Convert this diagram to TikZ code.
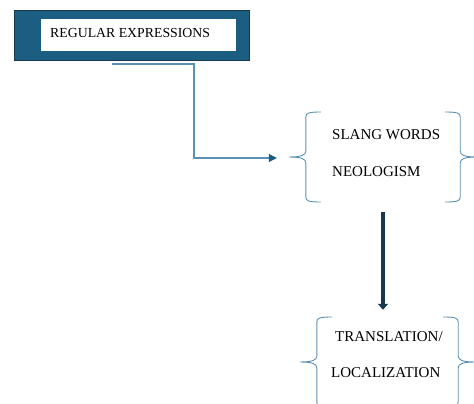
\documentclass[tikz,border=0pt]{standalone}
\usepackage{fontspec}
\setmainfont{Liberation Serif}
\usetikzlibrary{arrows.meta}
\definecolor{boxblue}{HTML}{1B5E82}
\definecolor{darkblue}{HTML}{17394D}
\definecolor{lineblue}{HTML}{5A91B5}
\begin{document}
\begin{tikzpicture}
[x=1pt,y=-1pt,
 frame/.style={draw=darkblue,line width=1pt,fill=boxblue,minimum width=235pt,minimum height=50pt},
 inner/.style={fill=white,minimum width=195pt,minimum height=32pt},
 group/.style={minimum width=#1,minimum height=90pt,inner sep=0pt},
 word/.style={anchor=west,inner sep=0pt,font=\fontsize{15}{15}\selectfont},
 link/.style={lineblue,line width=1.1pt,-{Triangle[width=8pt,length=8pt,color=boxblue]}},
 flow/.style={darkblue,line width=4pt,-{Triangle[width=10pt,length=6pt]}},
 lbrace/.pic={\draw[lineblue,line width=0.9pt] (15,-45) .. controls (3,-45) and (0,-44) .. (0,-40) -- (0,-6)
   .. controls (0,-2) and (-4,0) .. (-17,0) .. controls (-4,0) and (0,2) .. (0,6) -- (0,40)
   .. controls (0,44) and (3,45) .. (15,45);},
 rbrace/.pic={\draw[lineblue,line width=0.9pt] (-15,-45) .. controls (-3,-45) and (0,-44) .. (0,-40) -- (0,-6)
   .. controls (0,-2) and (4,0) .. (17,0) .. controls (4,0) and (0,2) .. (0,6) -- (0,40)
   .. controls (0,44) and (-3,45) .. (-15,45);}]
\useasboundingbox (0,0) rectangle (474,404);
\clip (0,0) rectangle (474,404);
\node[frame] (frame) at (131.5,36) {};
\node[inner] (regex) at (138.5,35) {};
\node[anchor=west,inner sep=0pt,font=\fontsize{13.8}{14}\selectfont] at (50,33) {REGULAR EXPRESSIONS};
\node[group=154pt] (slang) at (383,157) {};
\pic at (slang.west) {lbrace};
\pic at (slang.east) {rbrace};
\node[word] (sw) at (332,135) {SLANG WORDS};
\node[word] (neo) at (332,172) {NEOLOGISM};
\node[group=141pt] (trans) at (387.5,362) {};
\pic at (trans.west) {lbrace};
\pic at (trans.east) {rbrace};
\node[word] (tr) at (335,337) {TRANSLATION/};
\node[word] (loc) at (331,373) {LOCALIZATION};
\coordinate (start) at (112,64);
\coordinate (bend) at (194,158);
\coordinate (tip) at ([xshift=-29pt,yshift=-1pt]slang.west);
\draw[link] (start) -| (bend) -- (tip);
\draw[flow] ([yshift=-10pt]slang.south -| 383,0) -- ([yshift=7pt]trans.north -| 383,0);
\end{tikzpicture}
\end{document}
